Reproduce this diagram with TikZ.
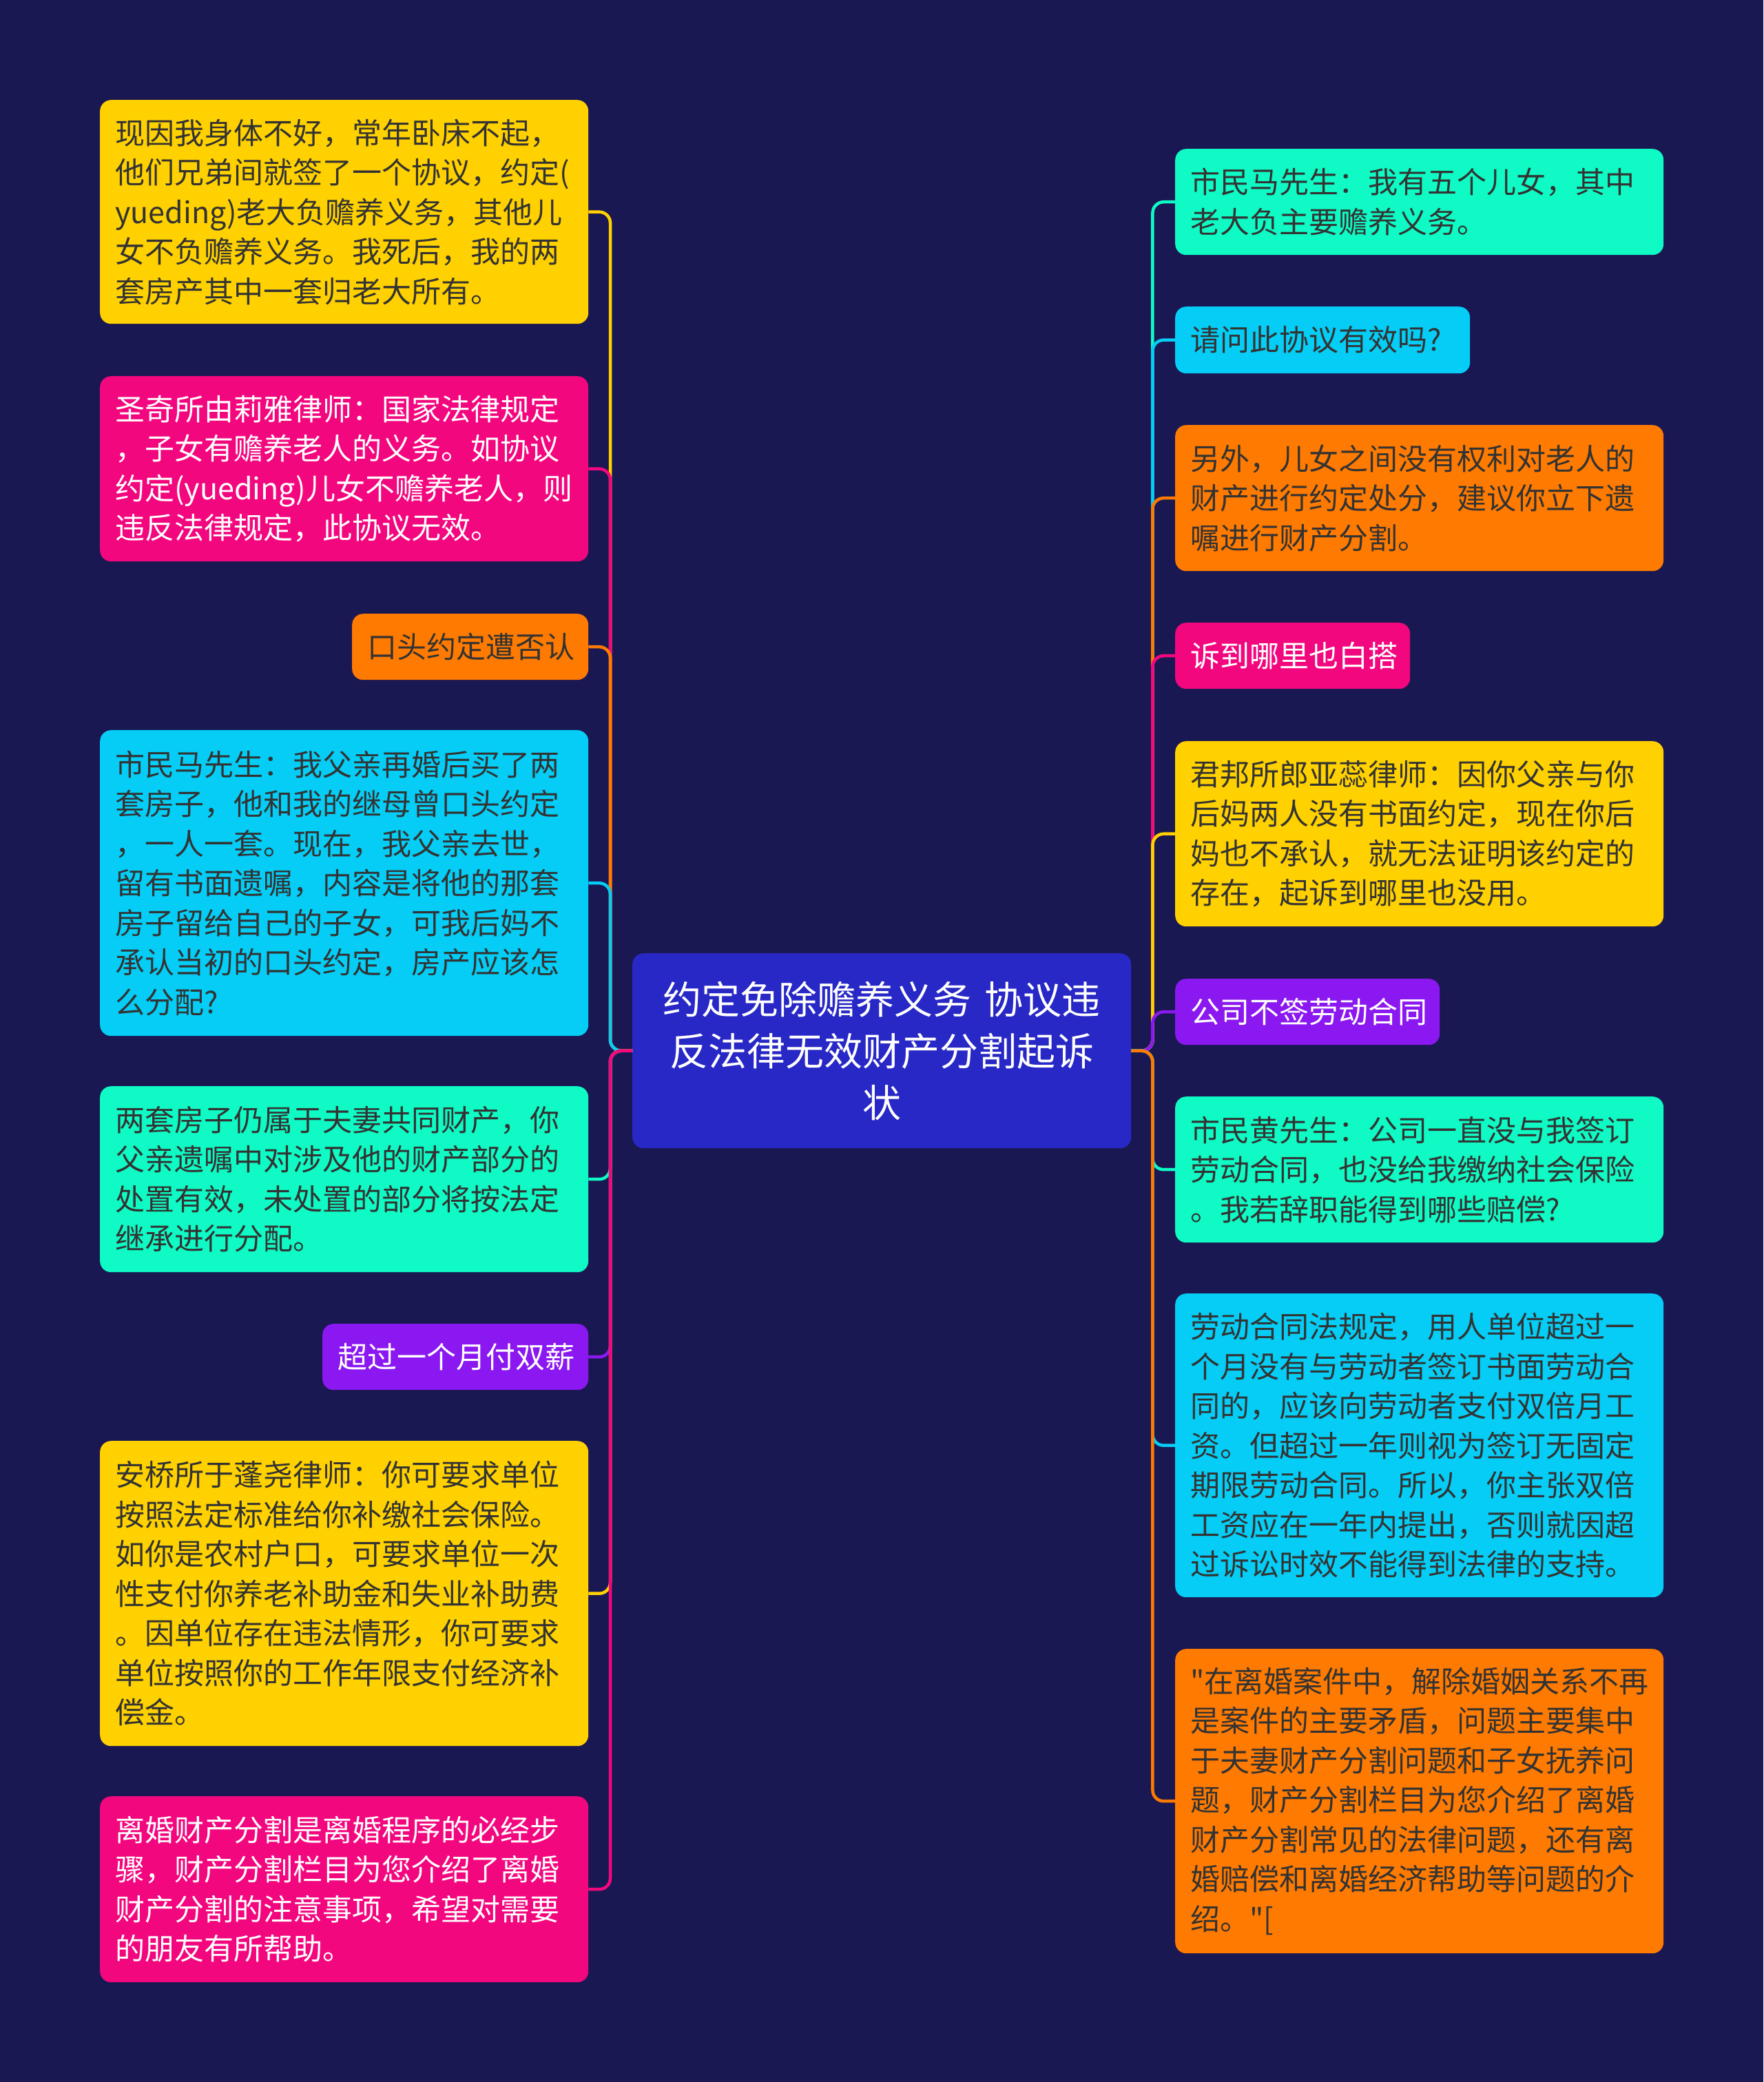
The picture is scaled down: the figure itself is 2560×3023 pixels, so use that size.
\documentclass[tikz,border=0pt]{standalone}
\usepackage{fontspec}
\setmainfont{Noto Sans CJK SC}[Ligatures=TeXOff]
\definecolor{bg}{HTML}{1A1852}
\definecolor{cyellow}{HTML}{FFD100}
\definecolor{cpink}{HTML}{F3077E}
\definecolor{corange}{HTML}{FF7A00}
\definecolor{ccyan}{HTML}{05CDF5}
\definecolor{cgreen}{HTML}{0FFAC4}
\definecolor{cpurple}{HTML}{8B18F0}
\definecolor{cblue}{HTML}{2828C6}
\definecolor{txtdark}{HTML}{333333}
\tikzset{
  box/.style={rounded corners=16pt, anchor=north west, inner xsep=22pt, inner ysep=0pt,
    align=left, font=\fontsize{43}{57.5}\selectfont, text=txtdark},
  lbox/.style={box, minimum width=709pt, text width=665pt},
  conn/.style={line width=4.5pt, rounded corners=16pt},
}
\begin{document}
\begin{tikzpicture}[x=1pt,y=-1pt]
\fill[bg] (0,0) rectangle (2560,3023);
\useasboundingbox (0,0) rectangle (2560,3023);

% central node
\node[fill=cblue, rounded corners=16pt, anchor=north west, minimum width=724pt, minimum height=283pt,
  text width=680pt, align=center, text=white, inner xsep=22pt, inner ysep=0pt,
  font=\fontsize{56}{75}\selectfont] (C) at (918,1384)
  {约定免除赡养义务 协议违\\反法律无效财产分割起诉\\状};

% left nodes
\node[lbox, fill=cyellow, minimum height=325pt] (L1) at (145,145)
 {现因我身体不好，常年卧床不起，\\他们兄弟间就签了一个协议，约定(\\yueding)老大负赡养义务，其他儿\\女不负赡养义务。我死后，我的两\\套房产其中一套归老大所有。};
\node[lbox, fill=cpink, text=white, minimum height=269pt] (L2) at (145,546)
 {圣奇所由莉雅律师：国家法律规定\\，子女有赡养老人的义务。如协议\\约定(yueding)儿女不赡养老人，则\\违反法律规定，此协议无效。};
\node[box, fill=corange, minimum width=343pt, minimum height=96pt, text width=299pt] (L3) at (511,891)
 {口头约定遭否认};
\node[lbox, fill=ccyan, minimum height=444pt] (L4) at (145,1060)
 {市民马先生：我父亲再婚后买了两\\套房子，他和我的继母曾口头约定\\，一人一套。现在，我父亲去世，\\留有书面遗嘱，内容是将他的那套\\房子留给自己的子女，可我后妈不\\承认当初的口头约定，房产应该怎\\么分配?};
\node[lbox, fill=cgreen, minimum height=270pt] (L5) at (145,1577)
 {两套房子仍属于夫妻共同财产，你\\父亲遗嘱中对涉及他的财产部分的\\处置有效，未处置的部分将按法定\\继承进行分配。};
\node[box, fill=cpurple, text=white, minimum width=386pt, minimum height=96pt, text width=342pt] (L6) at (468,1922)
 {超过一个月付双薪};
\node[lbox, fill=cyellow, minimum height=443pt] (L7) at (145,2092)
 {安桥所于蓬尧律师：你可要求单位\\按照法定标准给你补缴社会保险。\\如你是农村户口，可要求单位一次\\性支付你养老补助金和失业补助费\\。因单位存在违法情形，你可要求\\单位按照你的工作年限支付经济补\\偿金。};
\node[lbox, fill=cpink, text=white, minimum height=270pt] (L8) at (145,2608)
 {离婚财产分割是离婚程序的必经步\\骤，财产分割栏目为您介绍了离婚\\财产分割的注意事项，希望对需要\\的朋友有所帮助。};

% right nodes
\node[lbox, fill=cgreen, minimum height=154pt] (R1) at (1706,216)
 {市民马先生：我有五个儿女，其中\\老大负主要赡养义务。};
\node[box, fill=ccyan, minimum width=428pt, minimum height=97pt, text width=384pt] (R2) at (1706,445)
 {请问此协议有效吗?};
\node[lbox, fill=corange, minimum height=212pt] (R3) at (1706,617)
 {另外，儿女之间没有权利对老人的\\财产进行约定处分，建议你立下遗\\嘱进行财产分割。};
\node[box, fill=cpink, text=white, minimum width=341pt, minimum height=96pt, text width=297pt] (R4) at (1706,904)
 {诉到哪里也白搭};
\node[lbox, fill=cyellow, minimum height=269pt] (R5) at (1706,1076)
 {君邦所郎亚蕊律师：因你父亲与你\\后妈两人没有书面约定，现在你后\\妈也不承认，就无法证明该约定的\\存在，起诉到哪里也没用。};
\node[box, fill=cpurple, text=white, minimum width=384pt, minimum height=96pt, text width=340pt] (R6) at (1706,1421)
 {公司不签劳动合同};
\node[lbox, fill=cgreen, minimum height=212pt] (R7) at (1706,1592)
 {市民黄先生：公司一直没与我签订\\劳动合同，也没给我缴纳社会保险\\。我若辞职能得到哪些赔偿?};
\node[lbox, fill=ccyan, minimum height=441pt] (R8) at (1706,1878)
 {劳动合同法规定，用人单位超过一\\个月没有与劳动者签订书面劳动合\\同的，应该向劳动者支付双倍月工\\资。但超过一年则视为签订无固定\\期限劳动合同。所以，你主张双倍\\工资应在一年内提出，否则就因超\\过诉讼时效不能得到法律的支持。};
\node[lbox, fill=corange, minimum height=442pt] (R9) at (1706,2394)
 {"在离婚案件中，解除婚姻关系不再\\是案件的主要矛盾，问题主要集中\\于夫妻财产分割问题和子女抚养问\\题，财产分割栏目为您介绍了离婚\\财产分割常见的法律问题，还有离\\婚赔偿和离婚经济帮助等问题的介\\绍。"[};

% connectors (left)
\draw[conn, cyellow] (C.west) -- ++(-32,0) |- (L1.east);
\draw[conn, cpink]   (C.west) -- ++(-32,0) |- (L2.east);
\draw[conn, corange] (C.west) -- ++(-32,0) |- (L3.east);
\draw[conn, ccyan]   (C.west) -- ++(-32,0) |- (L4.east);
\draw[conn, cgreen]  (C.west) -- ++(-32,0) |- (L5.east);
\draw[conn, cpurple] (C.west) -- ++(-32,0) |- (L6.east);
\draw[conn, cyellow] (C.west) -- ++(-32,0) |- (L7.east);
\draw[conn, cpink]   (C.west) -- ++(-32,0) |- (L8.east);
% connectors (right)
\draw[conn, cgreen]  (C.east) -- ++(31,0) |- (R1.west);
\draw[conn, ccyan]   (C.east) -- ++(31,0) |- (R2.west);
\draw[conn, corange] (C.east) -- ++(31,0) |- (R3.west);
\draw[conn, cpink]   (C.east) -- ++(31,0) |- (R4.west);
\draw[conn, cyellow] (C.east) -- ++(31,0) |- (R5.west);
\draw[conn, cpurple] (C.east) -- ++(31,0) |- (R6.west);
\draw[conn, cgreen]  (C.east) -- ++(31,0) |- (R7.west);
\draw[conn, ccyan]   (C.east) -- ++(31,0) |- (R8.west);
\draw[conn, corange] (C.east) -- ++(31,0) |- (R9.west);
\end{tikzpicture}
\end{document}
